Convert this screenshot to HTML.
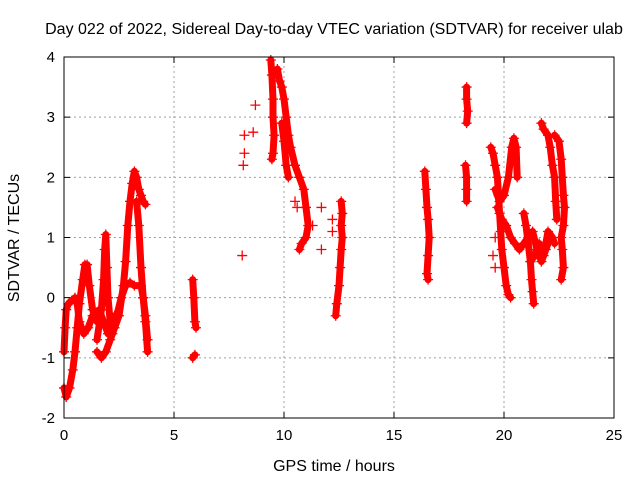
<!DOCTYPE html>
<html><head><meta charset="utf-8"><style>
body{margin:0;background:#fff;}
svg{display:block;font-family:"Liberation Sans",Arial,sans-serif;}
</style></head><body>
<svg id="chart" width="640" height="480">
<rect width="640" height="480" fill="#fff"/>
<g id="grid"></g>
<g id="marks"></g>
<rect x="64" y="57" width="550" height="361" fill="none" stroke="#000" stroke-width="1"/>
<g id="ticks"></g>
<text x="334" y="34" text-anchor="middle" font-size="16">Day 022 of 2022, Sidereal Day-to-day VTEC variation (SDTVAR) for receiver ulab</text>
<text x="334" y="471" text-anchor="middle" font-size="16">GPS time / hours</text>
<text transform="translate(19,238) rotate(-90)" text-anchor="middle" font-size="16">SDTVAR / TECUs</text>
</svg>
<script>
const xTicks=[0,5,10,15,20,25];
const yTicks=[-2,-1,0,1,2,3,4];
const arcTimes=[
[0,0.1,0.25,0.4,0.5,0.6,0.7,0.85,0.95,1.05,1.15,1.3,1.5],
[0,0.05,0.1,0.2,0.35,0.5,0.6,0.7,0.9,1.1,1.3,1.6,1.8,2.0,2.2,2.4,2.6,2.8,3.0,3.2,3.5,3.6,3.7,3.8],
[1.5,1.7,1.8,1.85,1.9,1.95,2.0,2.1,2.2,2.3],
[1.5,1.7,1.9,2.1,2.3,2.5,2.7,2.8,2.9,3.0,3.1,3.2,3.3,3.4,3.5,3.6,3.7],
[3.3,3.4,3.5,3.6,3.7,3.8],
[5.85,5.9,5.95,6.0],
[5.85,5.95],
[9.4,9.45,9.5,9.5,9.55,9.5,9.45],
[9.7,9.8,9.9,10.0,10.1,10.2,10.3,10.5,10.7,10.9,11.0,11.1,11.0,10.8,10.7],
[9.9,10.0,10.1,10.2],
[12.6,12.65,12.6,12.65,12.6,12.55,12.5,12.4,12.35],
[16.4,16.45,16.5,16.55,16.6,16.55,16.5,16.55],
[18.3,18.3,18.35,18.3],
[18.25,18.3,18.3,18.3],
[19.4,19.5,19.6,19.7,19.75,19.8,19.85,19.9,20.0,20.1,20.2,20.3],
[19.6,19.8,20.0,20.2,20.35,20.45,20.55,20.6],
[19.7,19.9,20.1,20.3,20.5,20.7,20.9,21.1,21.3,21.5,21.7,21.9,22.1],
[20.9,21.0,21.1,21.2,21.25,21.3,21.35],
[21.2,21.4,21.6,21.8,22.0,22.2,22.3],
[21.7,21.8,22.0,22.1,22.2,22.3,22.35,22.4],
[22.3,22.5,22.6,22.65,22.7,22.75,22.7,22.6,22.65,22.7,22.6]
];
const arcValues=[
[-1.5,-1.65,-1.5,-1.2,-0.9,-0.5,-0.1,0.3,0.55,0.55,0.2,-0.2,-0.4],
[-0.9,-0.5,-0.2,-0.1,-0.05,0,-0.1,-0.4,-0.6,-0.5,-0.3,-0.2,-0.4,-0.6,-0.5,-0.3,0.0,0.2,0.25,0.2,0.2,0.0,-0.4,-0.9],
[-0.7,-0.2,0.3,0.8,1.05,0.5,0.0,-0.4,-0.6,-0.3],
[-0.9,-1.0,-0.9,-0.7,-0.5,-0.3,0.2,0.6,1.2,1.6,1.9,2.1,2.0,1.8,1.7,1.6,1.55],
[1.6,1.2,0.5,0.0,-0.3,-0.7],
[0.3,0,-0.4,-0.5],
[-1.0,-0.95],
[3.95,3.7,3.3,3.0,2.7,2.4,2.3],
[3.8,3.6,3.5,3.3,3.0,2.7,2.5,2.2,2.0,1.8,1.5,1.2,1.0,0.9,0.8],
[2.9,2.6,2.2,2.0],
[1.6,1.4,1.2,1.0,0.8,0.5,0.2,-0.1,-0.3],
[2.1,1.8,1.5,1.3,1.0,0.7,0.4,0.3],
[3.5,3.3,3.1,2.9],
[2.2,2.0,1.8,1.6],
[2.5,2.4,2.2,2.0,1.7,1.4,1.1,0.8,0.5,0.2,0.05,0.0],
[1.8,1.6,1.7,2.0,2.5,2.65,2.5,2.0],
[1.5,1.3,1.2,1.0,0.9,0.8,0.9,1.0,1.1,0.8,0.6,0.8,1.0],
[1.4,1.2,0.9,0.6,0.3,0.1,-0.1],
[0.6,0.7,0.9,0.7,1.1,1.0,0.9],
[2.9,2.8,2.7,2.5,2.2,2.0,1.6,1.3],
[2.7,2.6,2.3,2.0,1.7,1.5,1.2,1.0,0.8,0.5,0.3]
];
const isoTimes=[8.1,8.15,8.2,8.2,8.6,8.7,10.5,10.6,11.3,11.7,11.7,12.2,12.2,19.5,19.6,19.6];
const isoValues=[0.7,2.2,2.4,2.7,2.75,3.2,1.6,1.5,1.2,1.5,0.8,1.3,1.1,0.7,0.5,1.0];
const NS="http://www.w3.org/2000/svg";
const X0=64,X1=614,Y0=418,Y1=57;
function xs(t){return X0+(t-0)/(25-0)*(X1-X0);}
function ys(v){return Y0-(v+2)/(4+2)*(Y0-Y1);}
const grid=document.getElementById('grid'),ticks=document.getElementById('ticks'),marks=document.getElementById('marks');
function mk(tag,attrs,parent){const e=document.createElementNS(NS,tag);for(const k in attrs)e.setAttribute(k,attrs[k]);parent.appendChild(e);return e;}
xTicks.forEach(t=>{const x=xs(t);
 if(t>0&&t<25){const g=mk('line',{x1:x,x2:x,y1:Y0,y2:Y1,stroke:'#a0a0a0','stroke-dasharray':'2,3'},grid);
 
 }
 const tk=mk('path',{d:`M${x},${Y0}v-6M${x},${Y1}v6`,stroke:'#000'},ticks);
 
 
 const l=mk('text',{x:x,y:Y0+22,'text-anchor':'middle','font-size':'15'},ticks);l.textContent=t;
 
 
});
yTicks.forEach(v=>{const y=ys(v);
 if(v>-2&&v<4){const g=mk('line',{x1:X0,x2:X1,y1:y,y2:y,stroke:'#a0a0a0','stroke-dasharray':'2,3'},grid);
 
 }
 const tk=mk('path',{d:`M${X0},${y}h6M${X1},${y}h-6`,stroke:'#000'},ticks);
 
 
 const l=mk('text',{x:X0-9,y:y+5,'text-anchor':'end','font-size':'15'},ticks);l.textContent=v;
 
 
});
function plus(t,v){const x=xs(t),y=ys(v);
 const p=mk('path',{d:`M${x-5},${y}h10M${x},${y-5}v10`,stroke:'#f00','stroke-width':'1.3'},marks);
 
 }
arcTimes.forEach((ts,i)=>{const vs=arcValues[i];
 const pts=ts.map((t,j)=>xs(t)+','+ys(vs[j])).join(' ');
 const pl=mk('polyline',{points:pts,fill:'none',stroke:'#f00','stroke-width':'7','stroke-linejoin':'round','stroke-linecap':'round'},marks);
 
 
 ts.forEach((t,j)=>plus(t,vs[j]));
});
isoTimes.forEach((t,i)=>plus(t,isoValues[i]));
</script>
</body></html>
